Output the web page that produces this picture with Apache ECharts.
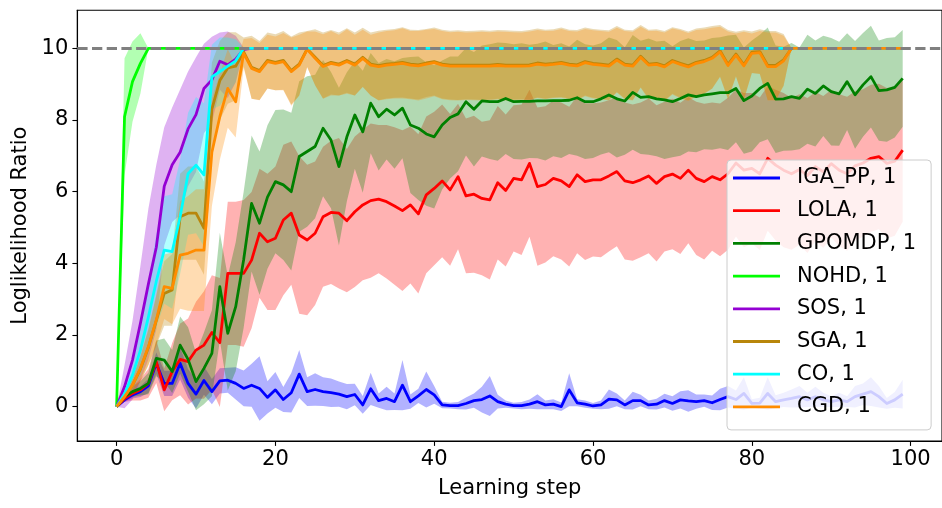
<!DOCTYPE html>
<html>
<head>
<meta charset="utf-8">
<script src="https://cdn.jsdelivr.net/npm/echarts@6/dist/echarts.min.js"></script>
<style>
  html, body { margin: 0; padding: 0; background: #ffffff; }
  #chart { width: 942px; height: 508px; }
</style>
</head>
<body>
<div id="chart"></div>
<script>
// Mean log-likelihood ratio per learning step (index = step 0..99) and its spread.
const igaMean = [
  0, 0.19, 0.33, 0.42, 0.58, 1.21, 0.65, 0.65, 1.21, 0.65,
  0.35, 0.73, 0.42, 0.72, 0.74, 0.65, 0.51, 0.6, 0.51, 0.26,
  0.47, 0.2, 0.39, 0.91, 0.42, 0.48, 0.42, 0.39, 0.35, 0.28,
  0.34, 0.05, 0.5, 0.17, 0.23, 0.14, 0.6, 0.14, 0.3, 0.48,
  0.33, 0.05, 0.03, 0.03, 0.09, 0.17, 0.2, 0.3, 0.14, 0.07,
  0.03, 0.03, 0.07, 0.14, 0.05, 0.07, 0.0, 0.47, 0.11, 0.07,
  0.02, 0.05, 0.21, 0.19, 0.05, 0.17, 0.17, 0.05, 0.07, 0.17,
  0.09, 0.19, 0.16, 0.14, 0.17, 0.11, 0.2, 0.28, 0.2, 0.37,
  0.09, 0.1, 0.37, 0.14, 0.19, 0.23, 0.28, 0.19, 0.28, 0.19,
  0.14, 0.19, 0.14, 0.28, 0.35, 0.42, 0.28, 0.09, 0.19, 0.35
];
const igaStd = [
  0, 0.05, 0.1, 0.15, 0.2, 0.3, 0.35, 0.35, 0.45, 0.4,
  0.4, 0.4, 0.35, 0.35, 0.35, 0.45, 0.5, 0.6, 0.9, 0.45,
  0.5, 0.35, 0.55, 0.67, 0.4, 0.45, 0.4, 0.4, 0.35, 0.35,
  0.3, 0.25, 0.45, 0.2, 0.33, 0.23, 0.7, 0.2, 0.2, 0.5,
  0.25, 0.09, 0.08, 0.1, 0.17, 0.2, 0.36, 0.56, 0.19, 0.1,
  0.08, 0.1, 0.13, 0.21, 0.12, 0.14, 0.12, 0.46, 0.1, 0.1,
  0.08, 0.12, 0.27, 0.18, 0.12, 0.25, 0.16, 0.12, 0.15, 0.19,
  0.2, 0.24, 0.3, 0.2, 0.17, 0.2, 0.3, 0.3, 0.25, 0.45,
  0.12, 0.15, 0.45, 0.18, 0.2, 0.25, 0.3, 0.2, 0.28, 0.2,
  0.15, 0.2, 0.15, 0.3, 0.3, 0.4, 0.3, 0.15, 0.22, 0.4
];

const lolaMean = [
  0, 0.23, 0.37, 0.47, 0.65, 1.26, 0.47, 0.98, 1.32, 1.26,
  1.58, 1.72, 2.07, 1.79, 3.72, 3.72, 3.72, 4.09, 4.84, 4.6,
  4.7, 5.21, 5.4, 4.79, 4.65, 4.84, 5.3, 5.42, 5.4, 5.19,
  5.44, 5.63, 5.75, 5.79, 5.72, 5.6, 5.47, 5.63, 5.38, 5.91,
  6.09, 6.3, 6.05, 6.42, 5.88, 5.93, 5.81, 5.77, 6.25, 6.03,
  6.37, 6.33, 6.79, 6.14, 6.2, 6.37, 6.3, 6.14, 6.47, 6.28,
  6.33, 6.33, 6.44, 6.56, 6.3, 6.25, 6.33, 6.44, 6.23, 6.42,
  6.49, 6.37, 6.6, 6.37, 6.28, 6.42, 6.33, 6.5, 6.8, 6.6,
  6.65, 6.5, 6.93, 6.74, 6.6, 6.5, 6.62, 6.45, 6.7, 6.55,
  6.78, 6.6, 6.5, 6.72, 6.8, 6.93, 6.98, 6.79, 6.85, 7.16
];
const lolaStd = [
  0, 0.1, 0.2, 0.3, 0.4, 0.6, 0.6, 0.8, 1.0, 1.2,
  1.35, 1.5, 1.6, 1.8, 2.0, 2.0, 2.05, 1.9, 1.8, 1.9,
  2.0, 2.1, 2.0, 2.2, 2.1, 2.0, 1.95, 2.0, 2.1, 2.0,
  2.1, 2.1, 2.15, 2.07, 2.14, 2.2, 2.24, 2.19, 2.22, 2.19,
  2.14, 2.13, 2.12, 2.03, 2.16, 2.19, 2.14, 2.22, 2.14, 2.12,
  2.04, 2.1, 2.05, 2.21, 2.18, 2.17, 2.19, 2.23, 2.19, 2.19,
  2.14, 2.16, 2.11, 2.08, 2.19, 2.18, 2.16, 2.16, 2.18, 2.09,
  2.1, 2.11, 2.04, 2.14, 2.17, 2.07, 2.13, 2.12, 2.05, 2.15,
  2.1, 2.13, 2.02, 2.1, 2.15, 2.12, 2.1, 2.16, 2.08, 2.12,
  2.06, 2.12, 2.15, 2.08, 2.06, 2.05, 2.03, 2.1, 2.08, 2.0
];

const gpomdpMean = [
  0, 0.28, 0.42, 0.51, 0.65, 1.35, 1.3, 0.98, 1.72, 1.32,
  0.7, 1.07, 1.49, 3.35, 2.05, 2.79, 4.1, 5.67, 5.12, 5.85,
  6.28, 6.19, 6.0, 6.98, 7.12, 7.26, 7.77, 7.44, 6.7, 7.53,
  8.14, 7.67, 8.47, 8.09, 8.3, 8.14, 8.33, 7.86, 7.77, 7.61,
  7.53, 7.86, 8.07, 8.17, 8.51, 8.3, 8.53, 8.51, 8.51, 8.6,
  8.51, 8.52, 8.52, 8.53, 8.53, 8.54, 8.54, 8.55, 8.62, 8.51,
  8.51, 8.59, 8.7, 8.59, 8.53, 8.77, 8.63, 8.65, 8.59, 8.56,
  8.51, 8.6, 8.7, 8.65, 8.7, 8.73, 8.76, 8.76, 8.88, 8.54,
  8.67, 8.88, 9.02, 8.58, 8.59, 8.65, 8.6, 8.86, 8.74, 8.95,
  8.79, 8.73, 9.07, 8.7, 8.98, 9.21, 8.82, 8.84, 8.91, 9.16
];
const gpomdpStd = [
  0, 0.1, 0.15, 0.2, 0.3, 0.5, 0.6, 0.6, 0.8, 0.9,
  0.8, 1.0, 1.2, 1.5, 1.6, 1.8, 1.9, 1.9, 2.0, 2.0,
  2.0, 2.1, 2.2, 2.1, 2.1, 2.0, 1.9, 1.9, 2.2, 1.8,
  1.5, 1.7, 1.4, 1.5, 1.4, 1.5, 1.4, 1.9, 2.0, 2.0,
  2.0, 1.8, 1.7, 1.6, 1.5, 1.6, 1.55, 1.6, 1.65, 1.55,
  1.6, 1.62, 1.58, 1.6, 1.66, 1.55, 1.6, 1.5, 1.62, 1.6,
  1.57, 1.55, 1.6, 1.64, 1.5, 1.6, 1.58, 1.62, 1.6, 1.65,
  1.55, 1.6, 1.58, 1.55, 1.52, 1.56, 1.55, 1.6, 1.5, 1.48,
  1.55, 1.5, 1.56, 1.5, 1.45, 1.5, 1.42, 1.52, 1.48, 1.4,
  1.5, 1.45, 1.35, 1.5, 1.45, 1.42, 1.4, 1.45, 1.4, 1.35
];

const nohdMean = [
  0, 8.09, 9.07, 9.58, 10, 10, 10, 10, 10, 10,
  10, 10, 10, 10, 10, 10, 10, 10, 10, 10,
  10, 10, 10, 10, 10, 10, 10, 10, 10, 10,
  10, 10, 10, 10, 10, 10, 10, 10, 10, 10,
  10, 10, 10, 10, 10, 10, 10, 10, 10, 10,
  10, 10, 10, 10, 10, 10, 10, 10, 10, 10,
  10, 10, 10, 10, 10, 10, 10, 10, 10, 10,
  10, 10, 10, 10, 10, 10, 10, 10, 10, 10,
  10, 10, 10, 10, 10, 10, 10, 10, 10, 10,
  10, 10, 10, 10, 10, 10, 10, 10, 10, 10
];
const nohdStd = [
  0, 1.63, 1.12, 0.84, 0, 0, 0, 0, 0, 0,
  0, 0, 0, 0, 0, 0, 0, 0, 0, 0,
  0, 0, 0, 0, 0, 0, 0, 0, 0, 0,
  0, 0, 0, 0, 0, 0, 0, 0, 0, 0,
  0, 0, 0, 0, 0, 0, 0, 0, 0, 0,
  0, 0, 0, 0, 0, 0, 0, 0, 0, 0,
  0, 0, 0, 0, 0, 0, 0, 0, 0, 0,
  0, 0, 0, 0, 0, 0, 0, 0, 0, 0,
  0, 0, 0, 0, 0, 0, 0, 0, 0, 0,
  0, 0, 0, 0, 0, 0, 0, 0, 0, 0
];

const sosMean = [
  0, 0.56, 1.3, 2.33, 3.42, 4.45, 6.15, 6.75, 7.1, 7.75,
  8.15, 8.88, 9.12, 9.64, 9.54, 9.7, 9.97, 10, 10, 10,
  10, 10, 10, 10, 10, 10, 10, 10, 10, 10,
  10, 10, 10, 10, 10, 10, 10, 10, 10, 10,
  10, 10, 10, 10, 10, 10, 10, 10, 10, 10,
  10, 10, 10, 10, 10, 10, 10, 10, 10, 10,
  10, 10, 10, 10, 10, 10, 10, 10, 10, 10,
  10, 10, 10, 10, 10, 10, 10, 10, 10, 10,
  10, 10, 10, 10, 10, 10, 10, 10, 10, 10,
  10, 10, 10, 10, 10, 10, 10, 10, 10, 10
];
const sosStd = [
  0, 0.6, 1.1, 1.6, 2.1, 2.3, 1.65, 1.6, 1.75, 1.6,
  1.6, 1.25, 1.2, 0.8, 0.93, 0.65, 0.05, 0, 0, 0,
  0, 0, 0, 0, 0, 0, 0, 0, 0, 0,
  0, 0, 0, 0, 0, 0, 0, 0, 0, 0,
  0, 0, 0, 0, 0, 0, 0, 0, 0, 0,
  0, 0, 0, 0, 0, 0, 0, 0, 0, 0,
  0, 0, 0, 0, 0, 0, 0, 0, 0, 0,
  0, 0, 0, 0, 0, 0, 0, 0, 0, 0,
  0, 0, 0, 0, 0, 0, 0, 0, 0, 0,
  0, 0, 0, 0, 0, 0, 0, 0, 0, 0
];

const sgaMean = [
  0, 0.28, 0.6, 1.05, 1.65, 2.4, 3.16, 3.26, 5.3, 5.4,
  5.4, 4.98, 8.3, 9.1, 9.45, 9.5, 9.9, 9.47, 9.38, 9.66,
  9.61, 9.66, 9.38, 9.56, 9.98, 9.75, 9.52, 9.61, 9.56, 9.66,
  9.56, 9.75, 9.56, 9.52, 9.56, 9.58, 9.61, 9.56, 9.54, 9.59,
  9.63, 9.56, 9.53, 9.53, 9.53, 9.53, 9.53, 9.53, 9.55, 9.53,
  9.53, 9.53, 9.54, 9.59, 9.56, 9.58, 9.61, 9.56, 9.54, 9.63,
  9.58, 9.56, 9.53, 9.7, 9.56, 9.53, 9.78, 9.56, 9.58, 9.51,
  9.66, 9.58, 9.51, 9.61, 9.66, 9.75, 9.93, 9.55, 9.84, 9.54,
  9.89, 9.91, 9.52, 9.52, 9.68, 10, 10, 10, 10, 10,
  10, 10, 10, 10, 10, 10, 10, 10, 10, 10
];
const sgaStd = [
  0, 0.1, 0.2, 0.35, 0.5, 0.7, 0.9, 1.0, 1.2, 1.3,
  1.3, 1.3, 1.3, 1.1, 1.0, 0.95, 0.4, 0.88, 0.82, 0.78,
  0.78, 0.82, 0.95, 0.88, 0.5, 0.78, 0.92, 0.9, 0.88, 0.9,
  0.88, 0.82, 0.88, 0.97, 0.96, 0.96, 0.98, 0.96, 0.97, 0.95,
  0.95, 0.96, 0.96, 0.97, 0.95, 0.96, 0.97, 0.96, 0.96, 0.97,
  0.96, 0.95, 0.97, 0.96, 0.96, 0.95, 0.97, 0.96, 0.97, 0.95,
  0.96, 0.96, 0.97, 0.92, 0.96, 0.97, 0.87, 0.96, 0.95, 0.97,
  0.93, 0.96, 0.96, 0.94, 0.92, 0.87, 0.72, 0.96, 0.62, 0.96,
  0.58, 0.62, 0.96, 0.96, 0.72, 0, 0, 0, 0, 0,
  0, 0, 0, 0, 0, 0, 0, 0, 0, 0
];

const coMean = [
  0, 0.37, 0.88, 1.58, 2.5, 3.5, 4.37, 4.33, 5.3, 6.5,
  6.74, 6.47, 9.2, 9.35, 9.5, 9.65, 10, 10, 10, 10,
  10, 10, 10, 10, 10, 10, 10, 10, 10, 10,
  10, 10, 10, 10, 10, 10, 10, 10, 10, 10,
  10, 10, 10, 10, 10, 10, 10, 10, 10, 10,
  10, 10, 10, 10, 10, 10, 10, 10, 10, 10,
  10, 10, 10, 10, 10, 10, 10, 10, 10, 10,
  10, 10, 10, 10, 10, 10, 10, 10, 10, 10,
  10, 10, 10, 10, 10, 10, 10, 10, 10, 10,
  10, 10, 10, 10, 10, 10, 10, 10, 10, 10
];
const coStd = [
  0, 0.2, 0.4, 0.7, 1.0, 1.3, 1.5, 1.6, 1.6, 1.7,
  1.9, 2.0, 0.9, 0.95, 0.8, 0.6, 0, 0, 0, 0,
  0, 0, 0, 0, 0, 0, 0, 0, 0, 0,
  0, 0, 0, 0, 0, 0, 0, 0, 0, 0,
  0, 0, 0, 0, 0, 0, 0, 0, 0, 0,
  0, 0, 0, 0, 0, 0, 0, 0, 0, 0,
  0, 0, 0, 0, 0, 0, 0, 0, 0, 0,
  0, 0, 0, 0, 0, 0, 0, 0, 0, 0,
  0, 0, 0, 0, 0, 0, 0, 0, 0, 0,
  0, 0, 0, 0, 0, 0, 0, 0, 0, 0
];

const cgdMean = [
  0, 0.28, 0.6, 1.07, 1.67, 2.42, 3.35, 3.3, 4.23, 4.28,
  4.37, 4.37, 7.1, 8.09, 8.88, 8.51, 9.86, 9.44, 9.35, 9.63,
  9.58, 9.63, 9.35, 9.53, 9.97, 9.72, 9.49, 9.58, 9.53, 9.63,
  9.53, 9.72, 9.53, 9.49, 9.53, 9.55, 9.58, 9.53, 9.51, 9.56,
  9.6, 9.53, 9.5, 9.5, 9.5, 9.5, 9.5, 9.5, 9.52, 9.5,
  9.5, 9.5, 9.51, 9.56, 9.53, 9.55, 9.58, 9.53, 9.51, 9.6,
  9.55, 9.53, 9.5, 9.67, 9.53, 9.5, 9.75, 9.53, 9.55, 9.48,
  9.63, 9.55, 9.48, 9.58, 9.63, 9.72, 9.9, 9.52, 9.81, 9.51,
  9.86, 9.88, 9.49, 9.49, 9.65, 10, 10, 10, 10, 10,
  10, 10, 10, 10, 10, 10, 10, 10, 10, 10
];
const cgdStd = [
  0, 0.1, 0.2, 0.35, 0.5, 0.7, 0.9, 1.0, 1.5, 1.6,
  1.7, 1.7, 1.5, 1.2, 1.1, 1.0, 0.4, 0.85, 0.8, 0.75,
  0.75, 0.8, 0.95, 0.85, 0.5, 0.75, 0.9, 0.9, 0.85, 0.9,
  0.85, 0.8, 0.85, 0.95, 0.95, 0.95, 0.98, 0.95, 0.97, 0.96,
  0.94, 0.95, 0.95, 0.96, 0.94, 0.95, 0.96, 0.95, 0.95, 0.96,
  0.95, 0.94, 0.96, 0.95, 0.95, 0.94, 0.96, 0.95, 0.96, 0.94,
  0.95, 0.95, 0.96, 0.9, 0.95, 0.96, 0.85, 0.95, 0.94, 0.96,
  0.92, 0.95, 0.95, 0.93, 0.9, 0.85, 0.7, 0.95, 0.6, 0.95,
  0.55, 0.6, 0.95, 0.95, 0.7, 0, 0, 0, 0, 0,
  0, 0, 0, 0, 0, 0, 0, 0, 0, 0
];

const xTicks = [0, 20, 40, 60, 80, 100];
const yTicks = [0, 2, 4, 6, 8, 10];
const targetRatio = 10;

const methods = [
  { name: 'IGA_PP, 1', color: '#0000ff', rgb: '0,0,255',     mean: igaMean,    std: igaStd },
  { name: 'LOLA, 1',   color: '#ff0000', rgb: '255,0,0',     mean: lolaMean,   std: lolaStd },
  { name: 'GPOMDP, 1', color: '#008000', rgb: '0,128,0',     mean: gpomdpMean, std: gpomdpStd },
  { name: 'NOHD, 1',   color: '#00ff00', rgb: '0,255,0',     mean: nohdMean,   std: nohdStd },
  { name: 'SOS, 1',    color: '#9400d3', rgb: '148,0,211',   mean: sosMean,    std: sosStd },
  { name: 'SGA, 1',    color: '#b8860b', rgb: '184,134,11',  mean: sgaMean,    std: sgaStd },
  { name: 'CO, 1',     color: '#00ffff', rgb: '0,255,255',   mean: coMean,     std: coStd },
  { name: 'CGD, 1',    color: '#ff8c00', rgb: '255,140,0',   mean: cgdMean,    std: cgdStd }
];

const FONT = 'DejaVu Sans';
const series = [];

// Shaded mean ± std bands, each drawn as one polygon through the axis scales.
methods.forEach((m) => {
  const band = m.mean.map((v, i) => [i, v - m.std[i], v + m.std[i]]);
  series.push({
    name: m.name + ' band',
    type: 'custom',
    data: band,
    encode: { x: 0, y: [1, 2] },
    silent: true,
    clip: true,
    z: 1,
    renderItem: function (params, api) {
      if (params.dataIndex !== 0) return null;
      const pts = [];
      for (let i = 0; i < band.length; i++) pts.push(api.coord([band[i][0], band[i][2]]));
      for (let i = band.length - 1; i >= 0; i--) pts.push(api.coord([band[i][0], band[i][1]]));
      return {
        type: 'polygon',
        shape: { points: pts },
        style: { fill: 'rgba(' + m.rgb + ',0.3)', stroke: null }
      };
    }
  });
});

// Mean curves drawn above all bands.
methods.forEach((m, k) => {
  const s = {
    name: m.name,
    type: 'line',
    data: m.mean.map((v, i) => [i, v]),
    symbol: 'none',
    showSymbol: false,
    color: m.color,
    lineStyle: { color: m.color, width: 2.78, join: 'round' },
    silent: true,
    z: 2
  };
  if (k === methods.length - 1) {
    s.markLine = {
      silent: true,
      symbol: 'none',
      label: { show: false },
      animation: false,
      lineStyle: { color: '#808080', width: 2.78, type: [10.3, 4.4] },
      data: [{ yAxis: targetRatio }]
    };
  }
  series.push(s);
});

const chart = echarts.init(document.getElementById('chart'), null, { renderer: 'canvas' });
chart.setOption({
  animation: false,
  backgroundColor: '#ffffff',
  grid: {
    left: 77.3, top: 10.3, width: 867.7, height: 430.7,
    show: true, borderColor: '#000000', borderWidth: 1.1, backgroundColor: 'transparent'
  },
  xAxis: {
    type: 'value',
    min: -4.95, max: 103.95,
    name: 'Learning step',
    nameLocation: 'middle',
    nameGap: 37,
    nameTextStyle: { fontFamily: FONT, fontSize: 21, color: '#000' },
    axisLine: { show: true, onZero: false, lineStyle: { color: '#000', width: 1.1 } },
    axisTick: { show: true, length: 4.9, lineStyle: { color: '#000', width: 1.1 }, customValues: xTicks },
    axisLabel: { fontFamily: FONT, fontSize: 21, color: '#000', margin: 8, customValues: xTicks },
    splitLine: { show: false }
  },
  yAxis: {
    type: 'value',
    min: -0.957, max: 11.06,
    name: 'Loglikelihood Ratio',
    nameLocation: 'middle',
    nameRotate: 90,
    nameGap: 42,
    nameTextStyle: { fontFamily: FONT, fontSize: 21, color: '#000' },
    axisLine: { show: true, onZero: false, lineStyle: { color: '#000', width: 1.1 } },
    axisTick: { show: true, length: 4.9, lineStyle: { color: '#000', width: 1.1 }, customValues: yTicks },
    axisLabel: { fontFamily: FONT, fontSize: 21, color: '#000', margin: 9, customValues: yTicks },
    splitLine: { show: false }
  },
  legend: {
    data: methods.map(m => ({ name: m.name, icon: 'rect' })),
    orient: 'vertical',
    left: 727, top: 160,
    itemWidth: 47, itemHeight: 2.8, itemGap: 11.7,
    padding: [7.5, 15, 12.5, 6],
    backgroundColor: 'rgba(255,255,255,0.8)',
    borderColor: '#cccccc', borderWidth: 1, borderRadius: 4,
    selectedMode: false,
    textStyle: { fontFamily: FONT, fontSize: 21, lineHeight: 21, color: '#000', padding: [0, 0, 0, 12] }
  },
  tooltip: { show: false },
  series: series
});
</script>
</body>
</html>
